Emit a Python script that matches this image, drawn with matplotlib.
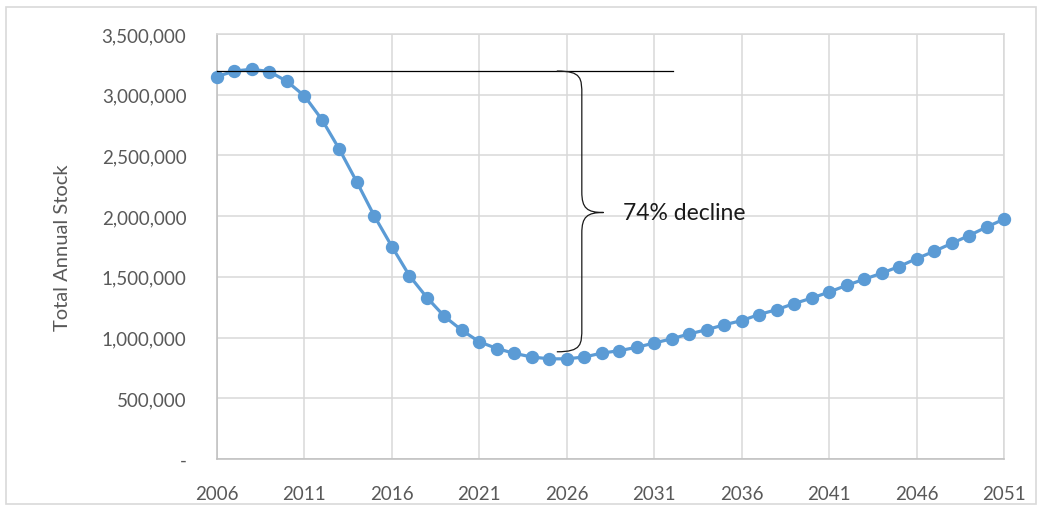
import matplotlib
matplotlib.use("Agg")
import matplotlib.pyplot as plt
from matplotlib.path import Path
from matplotlib.patches import PathPatch, Rectangle
from matplotlib.ticker import FuncFormatter

years = list(range(2006, 2052))
stock = [3150000, 3195000, 3210000, 3190000, 3110000, 2990000, 2795000, 2550000,
         2280000, 2000000, 1750000, 1510000, 1330000, 1175000, 1060000, 965000,
         910000, 870000, 840000, 825000, 825000, 840000, 872000, 892000,
         920000, 955000, 990000, 1030000, 1065000, 1105000, 1140000, 1190000,
         1230000, 1280000, 1325000, 1375000, 1430000, 1480000, 1530000, 1585000,
         1650000, 1710000, 1775000, 1840000, 1910000, 1975000]
xticks = [2006, 2011, 2016, 2021, 2026, 2031, 2036, 2041, 2046, 2051]
yticks = [0, 500000, 1000000, 1500000, 2000000, 2500000, 3000000, 3500000]
annotation_text = "74% decline"
ylabel = "Total Annual Stock"

plt.rcParams['font.family'] = ['Lato', 'DejaVu Sans']

fig = plt.figure(figsize=(10.42, 5.10), dpi=100)
fig.patches.append(Rectangle((0.006, 0.01), 0.988, 0.975, transform=fig.transFigure,
                             fill=False, edgecolor='#d9d9d9', linewidth=1.2))
ax = fig.add_axes([217/1042, 50/510, 787/1042, 425/510])

ax.plot(years, stock, color='#5b9bd5', linewidth=2.3, marker='o', markersize=8.6,
        zorder=3, clip_on=False)

ax.set_xlim(2006, 2051)
ax.set_ylim(0, 3500000)
ax.set_xticks(xticks)
ax.set_yticks(yticks)
ax.yaxis.set_major_formatter(FuncFormatter(lambda v, p: "-" if v == 0 else f"{int(v):,}"))
ax.grid(True, color='#d9d9d9', linewidth=1.1)
ax.set_axisbelow(True)
for s in ax.spines.values():
    s.set_color('#d9d9d9')
    s.set_linewidth(1.1)
ax.spines['left'].set_color('#bfbfbf')
ax.spines['bottom'].set_color('#bfbfbf')
ax.tick_params(axis='both', length=0, labelsize=13.5, labelcolor='#595959')
ax.tick_params(axis='y', pad=22)
ax.tick_params(axis='x', pad=19)
ax.set_ylabel(ylabel, fontsize=14.5, color='#595959', labelpad=22)

# annotation: reference line and brace
ytop = 3195000
ybot = 883000
ax.plot([2006, 2032.1], [ytop, ytop], color='black', linewidth=0.9, zorder=4, clip_on=False)
x0, x1, x2 = 2025.43, 2026.86, 2028.1
ymid = 2030000
d = 200000
dm = 170000
verts = [
    (x0, ytop),
    (x1, ytop), (x1, ytop - d * 0.3), (x1, ytop - d),
    (x1, ymid + dm),
    (x1, ymid + dm * 0.2), (x1 + 0.3, ymid), (x2, ymid),
    (x1 + 0.3, ymid), (x1, ymid - dm * 0.2), (x1, ymid - dm),
    (x1, ybot + d),
    (x1, ybot + d * 0.3), (x1, ybot), (x0, ybot),
]
codes = [Path.MOVETO,
         Path.CURVE4, Path.CURVE4, Path.CURVE4,
         Path.LINETO,
         Path.CURVE4, Path.CURVE4, Path.CURVE4,
         Path.CURVE4, Path.CURVE4, Path.CURVE4,
         Path.LINETO,
         Path.CURVE4, Path.CURVE4, Path.CURVE4]
ax.add_patch(PathPatch(Path(verts, codes), fill=False, edgecolor='#1a1a1a',
                       linewidth=0.9, zorder=4))
ax.text(2029.2, ymid, annotation_text, fontsize=16.5, color='#1a1a1a', va='center', ha='left')

fig.savefig("out.png", dpi=100)
